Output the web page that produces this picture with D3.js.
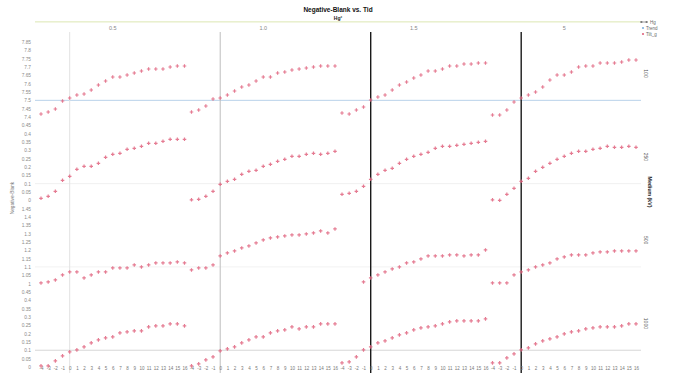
<!DOCTYPE html>
<html>
<head>
<meta charset="utf-8">
<script src="https://cdn.jsdelivr.net/npm/d3@7"></script>
<style>
  html, body { margin: 0; padding: 0; background: #fff; }
  svg { display: block; font-family: "Liberation Sans", Arial, sans-serif; }
</style>
</head>
<body>
<svg id="chart" width="676" height="374"></svg>
<script>
// Facet columns (top strip) and facet rows (right strip)
const columns = ["0.5", "1.0", "1.5", "5"];
const rows = ["100", "250", "500", "1000"];

// Shared x categories (Tid)
const categories = ["-4","-3","-2","-1","0","1","2","3","4","5","6","7","8","9","10","11","12","13","14","15","16"];
const markerAt = "0";

// Y ticks per facet row
const ticksRow1 = [7.40, 7.45, 7.50, 7.55, 7.60, 7.65, 7.70, 7.75, 7.80, 7.85];
const ticksRow2 = [0, 0.05, 0.10, 0.15, 0.20, 0.25, 0.30, 0.35, 0.40, 0.45];
const ticksRow3 = [1.00, 1.05, 1.10, 1.15, 1.20, 1.25, 1.30, 1.35, 1.40, 1.45];
const ticksRow4 = [0, 0.05, 0.10, 0.15, 0.20, 0.25, 0.30, 0.35, 0.40, 0.45];

// Reference level per facet row
const refLevels = [7.5, 0.1, 1.1, 0.1];

// Negative-Blank values, row by row, one array per column
const row1col1 = [7.418,7.430,7.448,7.496,7.514,7.532,7.538,7.562,7.592,7.616,7.640,7.640,7.652,7.664,7.676,7.688,7.688,7.688,7.700,7.706,7.706];
const row1col2 = [7.430,7.442,7.466,7.508,7.514,7.532,7.556,7.580,7.592,7.616,7.640,7.640,7.664,7.670,7.682,7.688,7.694,7.700,7.706,7.706,7.706];
const row1col3 = [7.424,7.418,7.442,7.460,7.502,7.520,7.532,7.562,7.592,7.610,7.634,7.652,7.676,7.676,7.688,7.706,7.706,7.718,7.718,7.724,7.724];
const row1col4 = [7.412,7.412,7.442,7.490,7.514,7.532,7.550,7.580,7.622,7.652,7.652,7.670,7.700,7.706,7.706,7.724,7.724,7.724,7.730,7.742,7.742];

const row2col1 = [0.012,0.024,0.054,0.120,0.144,0.186,0.204,0.204,0.222,0.258,0.276,0.282,0.306,0.312,0.324,0.342,0.342,0.354,0.366,0.366,0.366];
const row2col2 = [0.003,0.006,0.024,0.054,0.096,0.114,0.126,0.156,0.174,0.180,0.204,0.216,0.234,0.246,0.264,0.264,0.276,0.282,0.276,0.282,0.294];
const row2col3 = [0.036,0.042,0.054,0.084,0.126,0.156,0.180,0.192,0.222,0.246,0.264,0.276,0.288,0.312,0.324,0.324,0.330,0.336,0.342,0.348,0.354];
const row2col4 = [0.003,0.000,0.036,0.072,0.114,0.132,0.174,0.198,0.222,0.246,0.264,0.282,0.294,0.294,0.306,0.312,0.324,0.318,0.318,0.324,0.318];

const row3col1 = [1.004,1.010,1.022,1.052,1.070,1.070,1.034,1.052,1.070,1.070,1.094,1.094,1.094,1.112,1.100,1.112,1.124,1.124,1.124,1.130,1.124];
const row3col2 = [1.082,1.094,1.094,1.112,1.166,1.184,1.196,1.214,1.226,1.244,1.262,1.274,1.280,1.286,1.292,1.292,1.298,1.304,1.316,1.304,1.328];
const row3col3 = [null,null,null,1.010,1.034,1.052,1.070,1.088,1.100,1.124,1.130,1.148,1.166,1.166,1.166,1.172,1.172,1.166,1.172,1.172,1.202];
const row3col4 = [1.004,1.004,1.004,1.052,1.070,1.082,1.100,1.112,1.124,1.148,1.160,1.172,1.172,1.172,1.184,1.190,1.190,1.196,1.196,1.196,1.196];

const row4col1 = [0.006,0.006,0.036,0.066,0.090,0.102,0.120,0.144,0.162,0.174,0.180,0.204,0.210,0.216,0.216,0.240,0.246,0.246,0.258,0.258,0.246];
const row4col2 = [0.006,0.018,0.042,0.060,0.096,0.108,0.120,0.144,0.162,0.180,0.180,0.204,0.216,0.222,0.240,0.228,0.240,0.240,0.258,0.258,0.258];
const row4col3 = [0.024,0.030,0.060,0.102,0.120,0.144,0.156,0.174,0.192,0.204,0.222,0.234,0.240,0.246,0.258,0.270,0.276,0.276,0.276,0.276,0.288];
const row4col4 = [0.024,0.024,0.054,0.078,0.102,0.114,0.138,0.156,0.168,0.180,0.198,0.210,0.216,0.228,0.234,0.240,0.240,0.240,0.246,0.258,0.258];

const legendLabels = ["Hg", "Trend", "Tilt_g"];

// ---- assemble facets ----
const rowTicks = [ticksRow1, ticksRow2, ticksRow3, ticksRow4];
const grid = [
  [row1col1, row1col2, row1col3, row1col4],
  [row2col1, row2col2, row2col3, row2col4],
  [row3col1, row3col2, row3col3, row3col4],
  [row4col1, row4col2, row4col3, row4col4]
];

const svg = d3.select("#chart");
svg.append("rect").attr("width", 676).attr("height", 374).attr("fill", "#fff");

const colStart = 41, colStep = 150.5, colWidth = 143.5;
const rowTop0 = 42, rowStep = 83.3, rowHeight = 75;
const plotLeft = 35, plotRight = 641;

const xScales = columns.map((c, i) =>
  d3.scalePoint().domain(categories).range([colStart + i * colStep, colStart + i * colStep + colWidth]));
const yScales = rowTicks.map((t, i) =>
  d3.scaleLinear().domain([t[0], t[t.length - 1]]).range([rowTop0 + i * rowStep + rowHeight, rowTop0 + i * rowStep]));

// title block
svg.append("text").attr("x", 338).attr("y", 12).attr("text-anchor", "middle")
  .attr("font-size", 6.5).attr("font-weight", "bold").attr("fill", "#111").text("Negative-Blank vs. Tid");
svg.append("text").attr("x", 338).attr("y", 20).attr("text-anchor", "middle")
  .attr("font-size", 5).attr("font-weight", "bold").attr("fill", "#222").text("Hg²");

// top strip rule
svg.append("rect").attr("x", plotLeft).attr("y", 21).attr("width", plotRight - plotLeft).attr("height", 1.6)
  .attr("fill", "#e9f0cf");

// column headers
columns.forEach((c, i) => {
  const xs = xScales[i];
  svg.append("text").attr("x", (xs.range()[0] + xs.range()[1]) / 2).attr("y", 30)
    .attr("text-anchor", "middle").attr("font-size", 5.5).attr("fill", "#888").text(c);
});

// horizontal reference lines
const refStyles = [
  { stroke: "#b9d2ea", width: 1 },
  { stroke: "#f0f0f0", width: 1 },
  { stroke: "#f2f2f2", width: 1 },
  { stroke: "#d6d6d6", width: 1 }
];
refLevels.forEach((v, i) => {
  const y = yScales[i](v);
  svg.append("line").attr("x1", plotLeft).attr("x2", plotRight).attr("y1", y).attr("y2", y)
    .attr("stroke", refStyles[i].stroke).attr("stroke-width", refStyles[i].width);
});

// vertical marker lines at Tid = 0
const vStyles = [
  { stroke: "#e2e2e2", width: 1 },
  { stroke: "#bdbdbd", width: 1 },
  { stroke: "#1a1a1a", width: 1.4 },
  { stroke: "#1a1a1a", width: 1.4 }
];
columns.forEach((c, i) => {
  const x = xScales[i](markerAt);
  svg.append("line").attr("x1", x).attr("x2", x).attr("y1", 32).attr("y2", 373)
    .attr("stroke", vStyles[i].stroke).attr("stroke-width", vStyles[i].width);
});

// y axes per row (left)
rowTicks.forEach((ticks, r) => {
  const axis = d3.axisLeft(yScales[r]).tickValues(ticks).tickSize(0).tickPadding(0)
    .tickFormat(d3.format("~g"));
  const g = svg.append("g").attr("transform", "translate(31,0)").call(axis);
  g.select(".domain").remove();
  g.selectAll("text").attr("font-size", 4.8).attr("fill", "#8a8a8a")
    .attr("font-family", "Liberation Sans, Arial, sans-serif");
});

// y axis title
svg.append("text").attr("transform", "translate(14,198) rotate(-90)").attr("text-anchor", "middle")
  .attr("font-size", 4.8).attr("fill", "#777").text("Negative-Blank");

// row strip labels (right)
rows.forEach((r, i) => {
  const yc = (yScales[i].range()[0] + yScales[i].range()[1]) / 2 - 6;
  svg.append("text").attr("transform", `translate(644,${yc}) rotate(90)`).attr("text-anchor", "middle")
    .attr("font-size", 5).attr("fill", "#555").text(r);
});
svg.append("text").attr("transform", "translate(648,192) rotate(90)").attr("text-anchor", "middle")
  .attr("font-size", 5.2).attr("font-weight", "bold").attr("fill", "#222").text("Medium (kV)");

// x axes per column (bottom)
columns.forEach((c, i) => {
  const axis = d3.axisBottom(xScales[i]).tickSize(0).tickPadding(0);
  const g = svg.append("g").attr("transform", "translate(0,366)").call(axis);
  g.select(".domain").remove();
  g.selectAll("text").attr("font-size", 4.5).attr("fill", "#777")
    .attr("font-family", "Liberation Sans, Arial, sans-serif")
    .attr("text-anchor", "middle").attr("dy", 0)
    .attr("transform", "translate(0,4)");
});

// points
const pointColor = "#e0647f";
grid.forEach((rowSeries, r) => {
  rowSeries.forEach((vals, c) => {
    const pts = vals.map((v, k) => ({ cat: categories[k], v })).filter(d => d.v !== null);
    svg.append("g").selectAll("path").data(pts).enter().append("path")
      .attr("transform", d => `translate(${xScales[c](d.cat)},${yScales[r](d.v)})`)
      .attr("d", d3.symbol().type(d3.symbolCross).size(7))
      .attr("fill", pointColor).attr("opacity", 0.85);
  });
});

// legend
const lg = svg.append("g").attr("transform", "translate(640,22)");
lg.append("line").attr("x1", 0).attr("x2", 8).attr("y1", 0).attr("y2", 0).attr("stroke", "#888").attr("stroke-width", 0.8);
lg.append("circle").attr("cx", 1.5).attr("cy", 0).attr("r", 1).attr("fill", "#777");
lg.append("circle").attr("cx", 6.5).attr("cy", 0).attr("r", 1).attr("fill", "#777");
lg.append("text").attr("x", 10).attr("y", 1.8).attr("font-size", 4.5).attr("fill", "#666").text(legendLabels[0]);
lg.append("circle").attr("cx", 3).attr("cy", 6).attr("r", 1.1).attr("fill", "#7fb2e0");
lg.append("text").attr("x", 6).attr("y", 7.8).attr("font-size", 4.5).attr("fill", "#666").text(legendLabels[1]);
lg.append("circle").attr("cx", 3).attr("cy", 12).attr("r", 1.1).attr("fill", pointColor);
lg.append("text").attr("x", 6).attr("y", 13.8).attr("font-size", 4.5).attr("fill", "#666").text(legendLabels[2]);
</script>
</body>
</html>
